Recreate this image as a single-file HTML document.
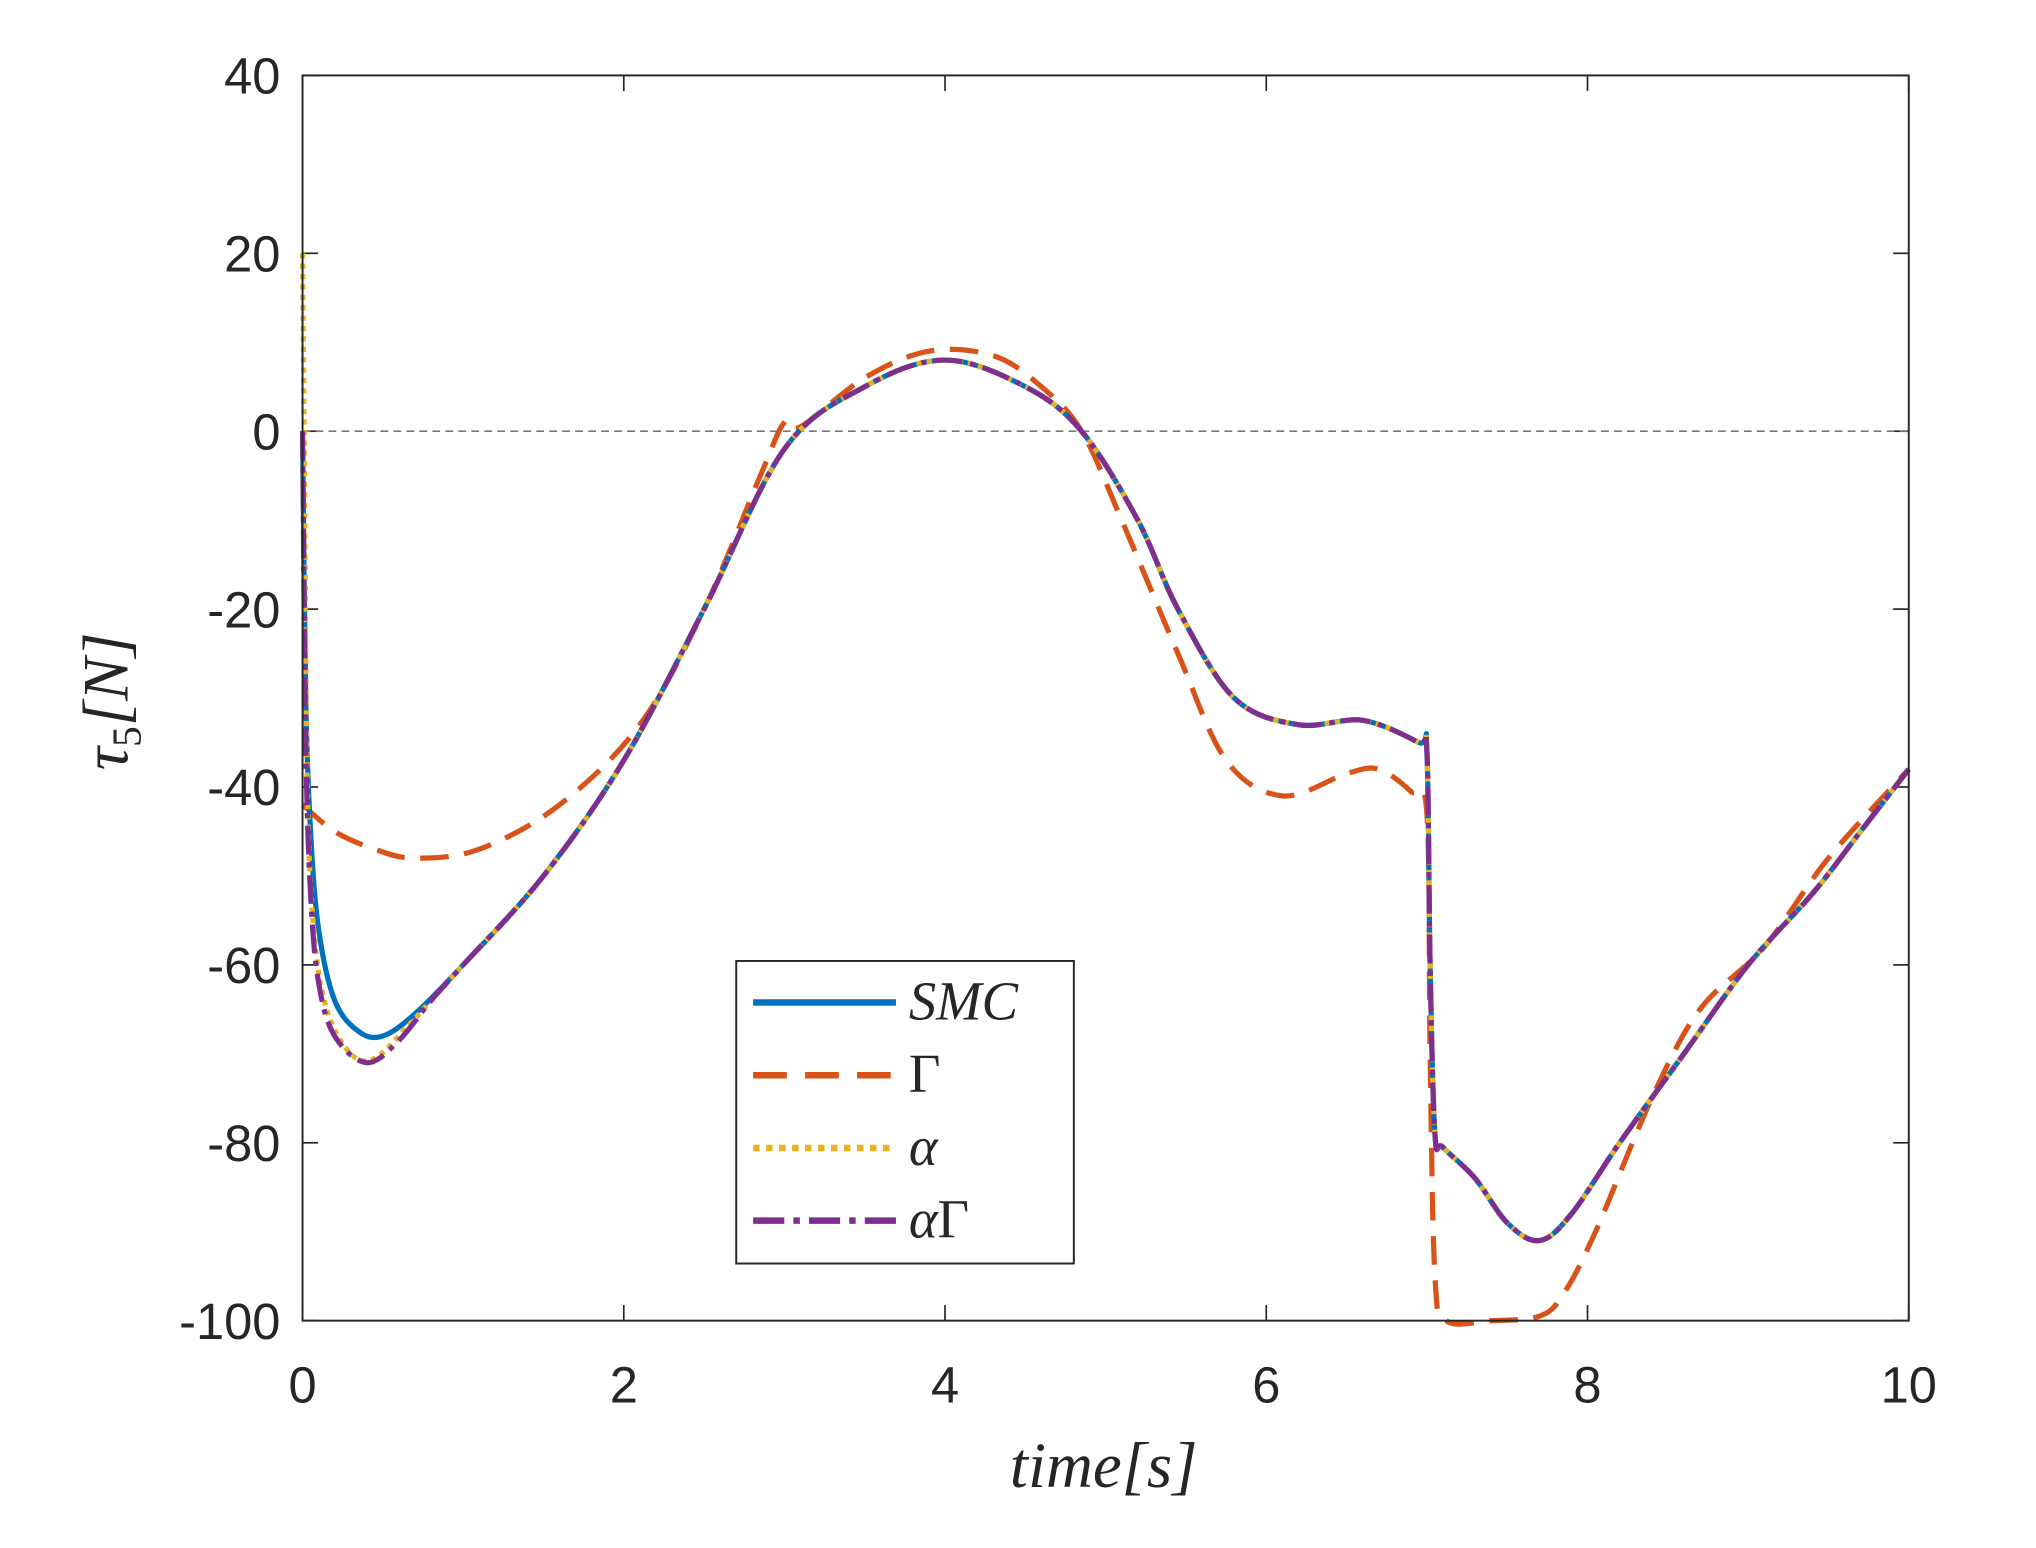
<!DOCTYPE html>
<html><head><meta charset="utf-8"><style>html,body{margin:0;padding:0;background:#fff}svg{display:block}</style></head>
<body>
<svg id="s" width="2036" height="1548" viewBox="0 0 1568 1192" xmlns="http://www.w3.org/2000/svg" font-family="Liberation Sans, sans-serif">
<rect width="1568" height="1192" fill="#fff"/>
<g id="ticks" stroke="#262626" stroke-width="1.3" fill="none"></g>
<line x1="233" y1="332" x2="1470" y2="332" stroke="#777" stroke-width="1.3" stroke-dasharray="6,4"/>
<g id="series" fill="none" stroke-linejoin="round"></g>
<rect x="233" y="58" width="1237" height="959" fill="none" stroke="#262626" stroke-width="1.5"/>
<g id="labels" font-size="39" fill="#262626"></g>
<text x="850" y="1145" font-family="Liberation Serif, serif" font-style="italic" font-size="50" text-anchor="middle" fill="#262626">time[s]</text>
<text transform="translate(98,540) rotate(-90)" font-family="Liberation Serif, serif" font-style="italic" font-size="50" text-anchor="middle" fill="#262626">τ<tspan font-style="normal" font-size="32" dy="10">5</tspan><tspan dy="-10">[N]</tspan></text>
<g>
<rect x="567" y="740" width="260" height="233" fill="#fff" stroke="#262626" stroke-width="1.5"/>
<line x1="580" y1="772" x2="690" y2="772" stroke="#0072BD" stroke-width="5"/>
<line x1="580" y1="828" x2="690" y2="828" stroke="#D95319" stroke-width="5" stroke-dasharray="26,14"/>
<line x1="580" y1="884" x2="690" y2="884" stroke="#EDB120" stroke-width="5" stroke-dasharray="5,5"/>
<line x1="580" y1="940" x2="690" y2="940" stroke="#7E2F8E" stroke-width="5" stroke-dasharray="24,7,5,7"/>
<g font-family="Liberation Serif, serif" font-style="italic" font-size="42" fill="#262626">
<text x="700" y="785">SMC</text>
<text x="700" y="841" font-style="normal">Γ</text>
<text x="700" y="897">α</text>
<text x="700" y="953">α<tspan font-style="normal">Γ</tspan></text>
</g></g>
</svg>
<script>
const X=t=>233+t*123.7, Y=v=>58+(40-v)*6.85;
const NS="http://www.w3.org/2000/svg";
const tk=document.getElementById('ticks'), lb=document.getElementById('labels');
function el(p,n,a,txt){const e=document.createElementNS(NS,n);for(const k in a)e.setAttribute(k,a[k]);if(txt)e.textContent=txt;p.appendChild(e);return e;}
for(let t=0;t<=10;t+=2){const x=X(t);el(tk,'line',{x1:x,y1:1017,x2:x,y2:1005});el(tk,'line',{x1:x,y1:58,x2:x,y2:70});el(lb,'text',{x:x,y:1080,'text-anchor':'middle'},String(t));}
for(let v=-100;v<=40;v+=20){const y=Y(v);el(tk,'line',{x1:233,y1:y,x2:245,y2:y});el(tk,'line',{x1:1470,y1:y,x2:1458,y2:y});el(lb,'text',{x:216,y:y+14,'text-anchor':'end'},String(v));}
function path(pts){let d='M'+X(pts[0][0])+','+Y(pts[0][1]);for(let i=0;i<pts.length-1;i++){const p0=pts[Math.max(i-1,0)],p1=pts[i],p2=pts[i+1],p3=pts[Math.min(i+2,pts.length-1)];
const a=[X(p0[0]),Y(p0[1])],b=[X(p1[0]),Y(p1[1])],c=[X(p2[0]),Y(p2[1])],e=[X(p3[0]),Y(p3[1])];
d+=' C'+(b[0]+(c[0]-a[0])/6)+','+(b[1]+(c[1]-a[1])/6)+' '+(c[0]-(e[0]-b[0])/6)+','+(c[1]-(e[1]-b[1])/6)+' '+c[0]+','+c[1];}return d;}
const tail=[[1.0,-60],[1.5,-50],[2,-37],[2.5,-20],[3,-2],[3.5,5],[4,8],[4.5,5],[4.85,0],[5.2,-10],[5.45,-20],[5.8,-30],[6.2,-33],[6.6,-32.5],[6.95,-35],[7.0,-36],[7.02,-60],[7.05,-79],[7.1,-80.5],[7.3,-84],[7.5,-89],[7.7,-91],[7.9,-88],[8.2,-80],[8.6,-70],[9.0,-60],[9.4,-52],[9.7,-45],[10,-38]];
const smc=[[0,0],[0.02,-30],[0.05,-45],[0.1,-56],[0.2,-64],[0.35,-67.5],[0.5,-68],[0.7,-65.5]].concat(tail);
const ag=[[0,0],[0.02,-35],[0.05,-52],[0.1,-62],[0.2,-68],[0.4,-71],[0.6,-68.5],[0.8,-64]].concat(tail);
const al=[[0,20],[0.01,0],[0.03,-40],[0.07,-56],[0.15,-65],[0.3,-70],[0.45,-70.5],[0.65,-67],[0.85,-63]].concat(tail);
const gam=[[0,-42],[0.2,-45],[0.45,-47],[0.7,-48],[1.1,-47],[1.6,-42],[2.1,-33],[2.5,-20],[2.85,-5],[3.0,1],[3.1,0.5],[3.5,6],[3.9,9],[4.3,8.5],[4.6,5],[4.85,0],[5.1,-10],[5.45,-25],[5.75,-37],[6.1,-41],[6.5,-38.5],[6.7,-38],[6.9,-40.5],[7.0,-43],[7.02,-70],[7.05,-95],[7.12,-100],[7.4,-100],[7.7,-99.5],[7.85,-97],[8.05,-90],[8.4,-75],[8.7,-65],[9.1,-58],[9.5,-48],[10,-38]];
const g=document.getElementById('series');
el(g,'path',{d:path(gam),stroke:'#D95319','stroke-width':4,'stroke-dasharray':'22,12'});
el(g,'path',{d:path(smc),stroke:'#0072BD','stroke-width':4});
el(g,'path',{d:path(al),stroke:'#EDB120','stroke-width':4,'stroke-dasharray':'4,4'});
el(g,'path',{d:path(ag),stroke:'#7E2F8E','stroke-width':4,'stroke-dasharray':'22,6,4,6'});
</script>
</body></html>
